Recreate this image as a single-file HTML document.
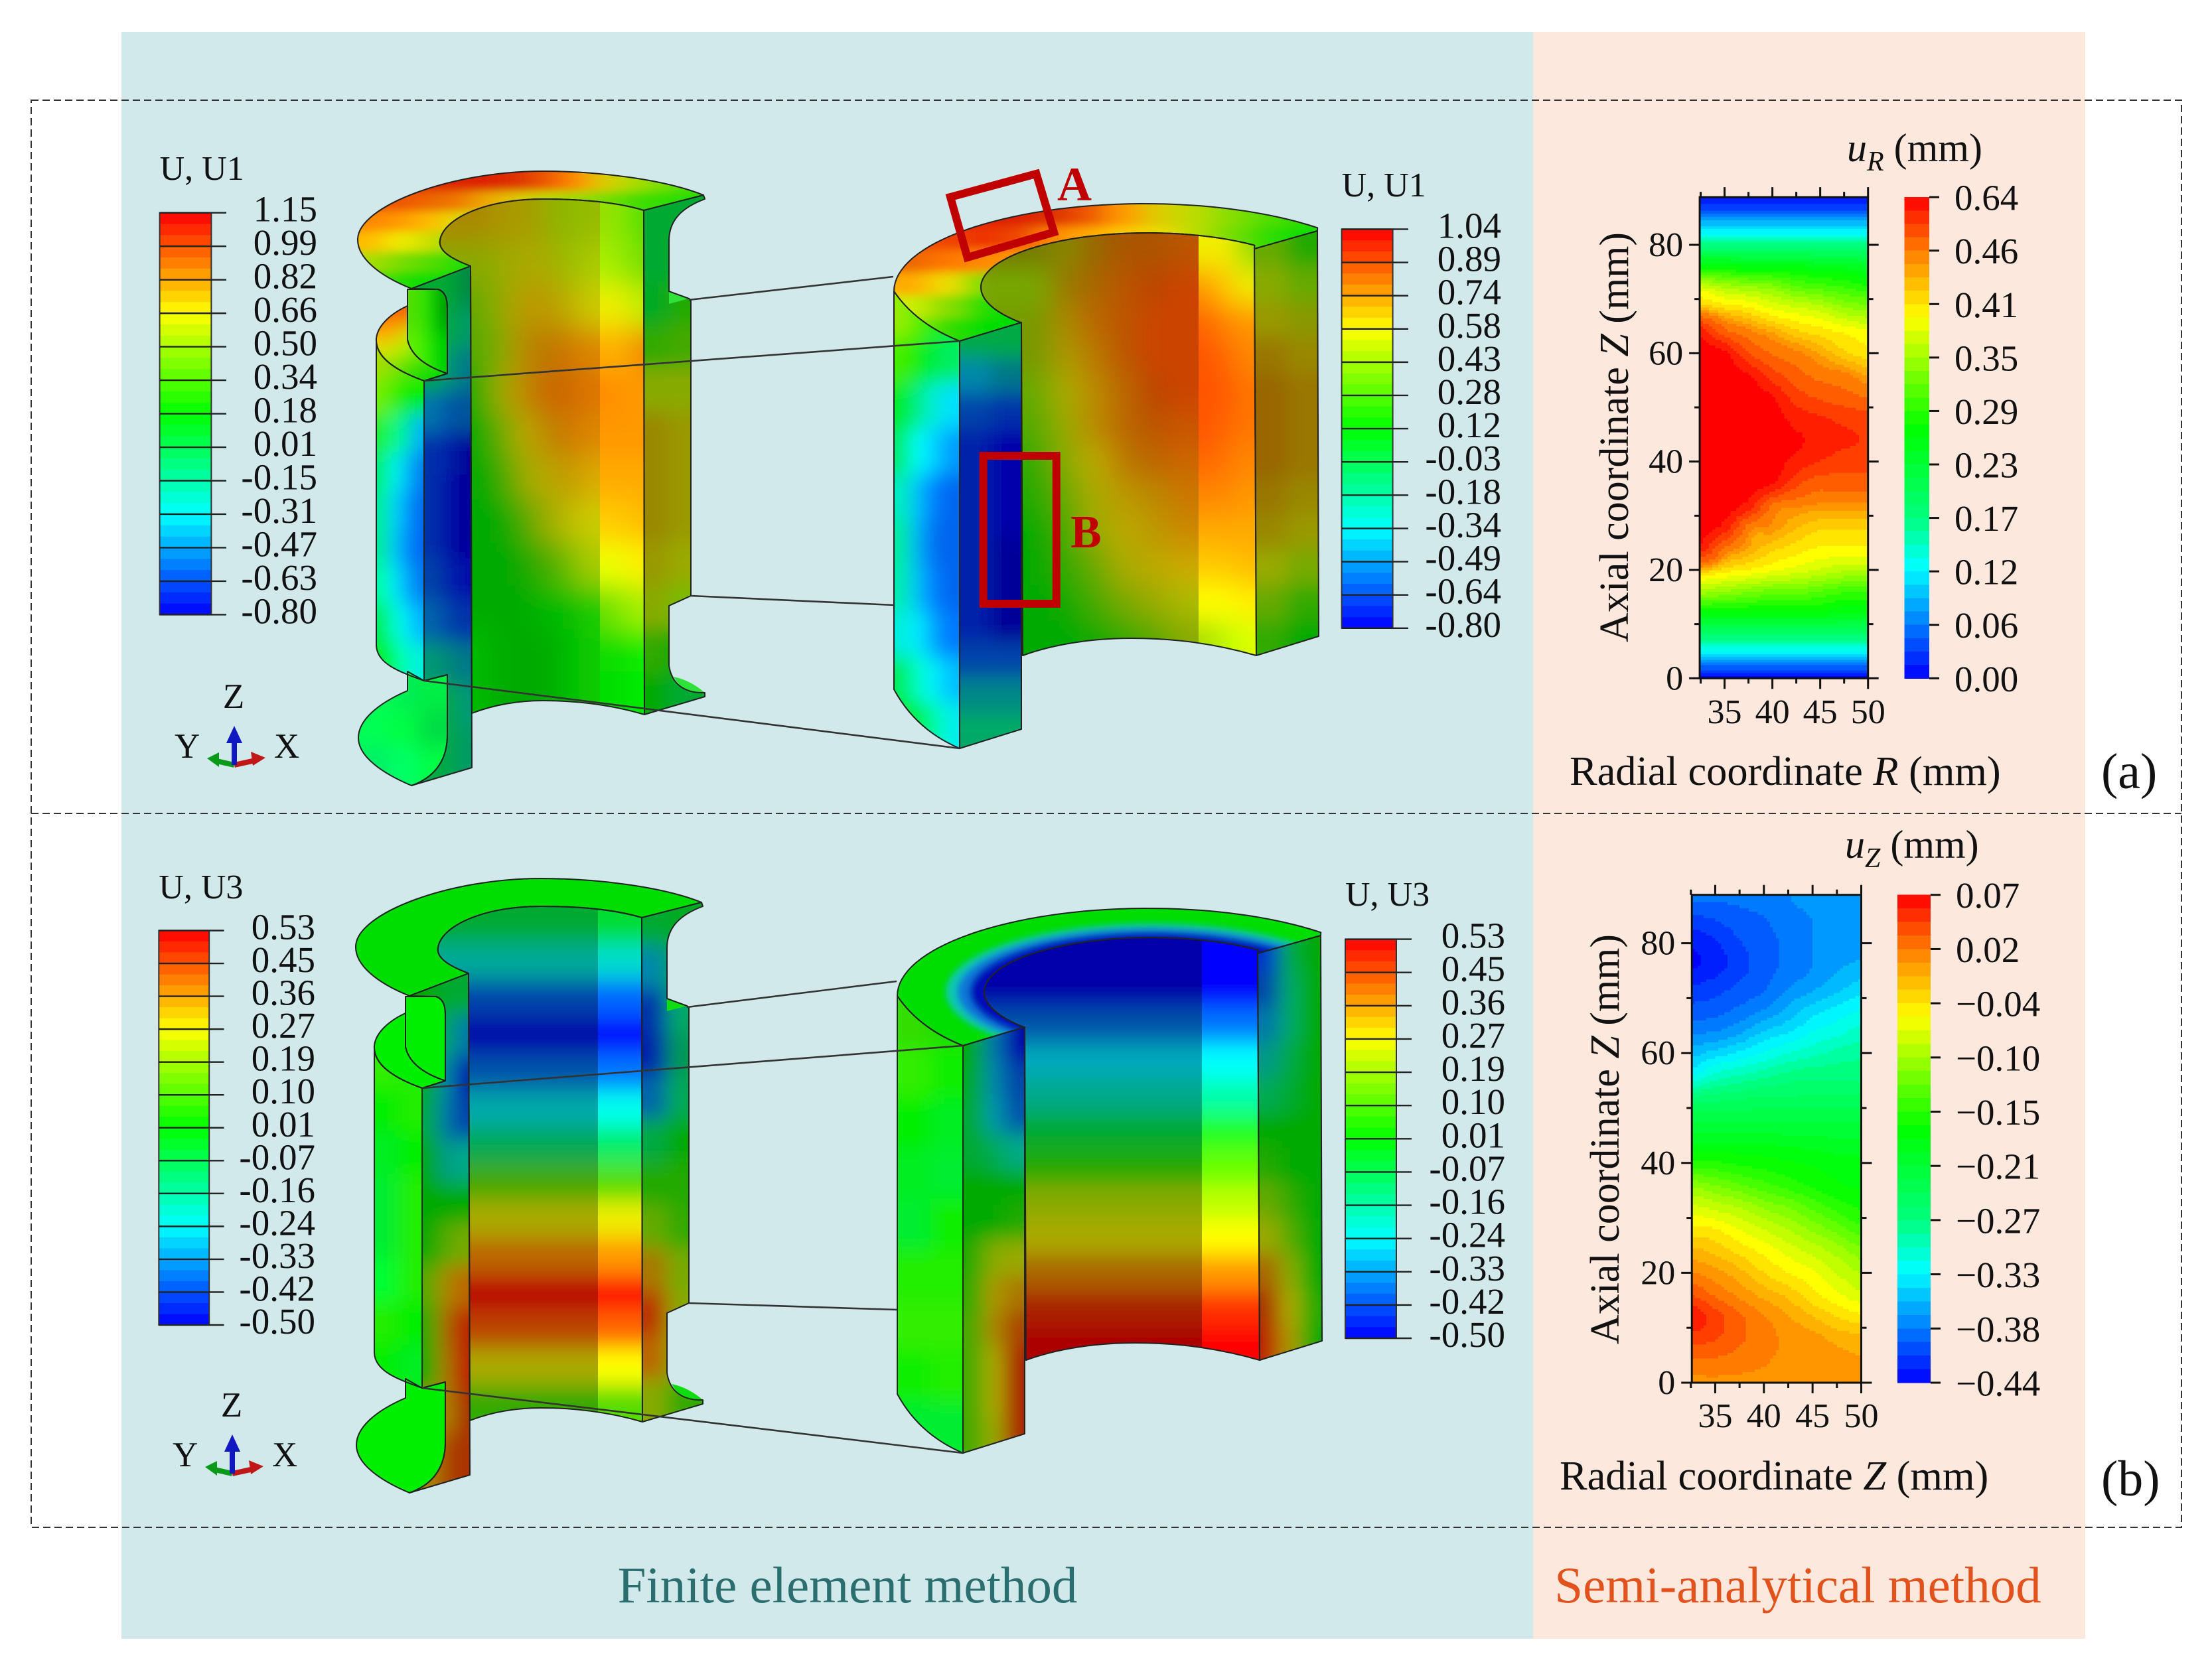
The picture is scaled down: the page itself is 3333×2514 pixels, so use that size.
<!DOCTYPE html>
<html lang="en">
<head>
<meta charset="utf-8">
<title>Finite element and semi-analytical displacement fields</title>
<style>
html,body{margin:0;padding:0;background:#fff;width:3333px;height:2514px;overflow:hidden}
svg{display:block}
text{font-family:"Liberation Serif","Times New Roman",serif;fill:#111}
</style>
</head>
<body>
<svg id="fig" xmlns="http://www.w3.org/2000/svg" width="3333" height="2514" viewBox="0 0 3333 2514">
<defs>
<filter id="blurBore" x="-25%" y="-25%" width="150%" height="150%"><feGaussianBlur stdDeviation="21"/></filter>
<filter id="blurRows" x="-25%" y="-25%" width="150%" height="150%"><feGaussianBlur stdDeviation="6 17"/></filter>
<filter id="blurFace" x="-40%" y="-25%" width="180%" height="150%"><feGaussianBlur stdDeviation="15"/></filter>
<filter id="blurTop" x="-25%" y="-40%" width="150%" height="180%"><feGaussianBlur stdDeviation="20 7"/></filter>
<filter id="blur5" x="-25%" y="-25%" width="150%" height="150%"><feGaussianBlur stdDeviation="5"/></filter>
</defs>
<rect x="183" y="48" width="2127" height="2422" fill="#d1e9ea"/>
<rect x="2310" y="48" width="832" height="2422" fill="#fde8de"/>
<g id="bodies"></g>
<g id="lines"></g>
<g id="colorbars"></g>
<g id="plots"></g>

<g fill="none" stroke="#333" stroke-width="2" stroke-dasharray="11 6">
<rect x="47" y="151" width="3240" height="2151"/>
<line x1="47" y1="1226" x2="3287" y2="1226"/>
</g>

<g fill="none" stroke="#c00000" stroke-width="12">
<polygon points="1432,297 1561.5,262 1588,350 1457.6,388"/>
<rect x="1481.7" y="687" width="110" height="223"/>
</g>
<text x="1593" y="302" font-size="72" font-weight="bold" style="fill:#c00000">A</text>
<text x="1613" y="825" font-size="70" font-weight="bold" style="fill:#c00000">B</text>

<g>
<text x="352" y="1067" font-size="53" text-anchor="middle">Z</text>
<text x="263" y="1142" font-size="53">Y</text>
<text x="413" y="1142" font-size="53">X</text>
<line x1="353" y1="1153" x2="322" y2="1146" stroke="#0a9a1a" stroke-width="8"/>
<polygon points="312,1143 330,1134 330,1156" fill="#0a9a1a"/>
<line x1="353" y1="1153" x2="385" y2="1146" stroke="#c01818" stroke-width="8"/>
<polygon points="400,1142 378,1133 381,1154" fill="#c01818"/>
<line x1="353" y1="1153" x2="353" y2="1115" stroke="#1018c0" stroke-width="8"/>
<polygon points="353,1094 341,1120 365,1120" fill="#1018c0"/>
</g>
<g transform="translate(-3,1068)">
<text x="352" y="1067" font-size="53" text-anchor="middle">Z</text>
<text x="263" y="1142" font-size="53">Y</text>
<text x="413" y="1142" font-size="53">X</text>
<line x1="353" y1="1153" x2="322" y2="1146" stroke="#0a9a1a" stroke-width="8"/>
<polygon points="312,1143 330,1134 330,1156" fill="#0a9a1a"/>
<line x1="353" y1="1153" x2="385" y2="1146" stroke="#c01818" stroke-width="8"/>
<polygon points="400,1142 378,1133 381,1154" fill="#c01818"/>
<line x1="353" y1="1153" x2="353" y2="1115" stroke="#1018c0" stroke-width="8"/>
<polygon points="353,1094 341,1120 365,1120" fill="#1018c0"/>
</g>

<text x="2783" y="243" font-size="60"><tspan font-style="italic">u</tspan><tspan font-style="italic" font-size="42" dy="14">R</tspan><tspan dy="-14"> (mm)</tspan></text>
<text x="2780" y="1293" font-size="60"><tspan font-style="italic">u</tspan><tspan font-style="italic" font-size="42" dy="14">Z</tspan><tspan dy="-14"> (mm)</tspan></text>
<text transform="translate(2453,659) rotate(-90)" font-size="62" text-anchor="middle">Axial coordinate <tspan font-style="italic">Z</tspan> (mm)</text>
<text transform="translate(2439,1717) rotate(-90)" font-size="62" text-anchor="middle">Axial coordinate <tspan font-style="italic">Z</tspan> (mm)</text>
<text x="2365" y="1183" font-size="62.4">Radial coordinate <tspan font-style="italic">R</tspan> (mm)</text>
<text x="2350" y="2245" font-size="62.4">Radial coordinate <tspan font-style="italic">Z</tspan> (mm)</text>
<text x="3166" y="1188" font-size="76">(a)</text>
<text x="3166" y="2254" font-size="76">(b)</text>
<text x="1277" y="2415" font-size="77" text-anchor="middle" style="fill:#2b6e70">Finite element method</text>
<text x="2709" y="2415" font-size="77" text-anchor="middle" style="fill:#e2521c">Semi-analytical method</text>
</svg>

<script>
/* ---------- chart data: semi-analytical contour plots ---------- */
const radialTicksMajor = [35, 40, 45, 50];
const radialTicksMinor = [32.5, 37.5, 42.5, 47.5];
const axialTicksMajor = [0, 20, 40, 60, 80];
const axialTicksMinor = [10, 30, 50, 70];

const uRRadii = [32.4, 35, 37.5, 40, 42.5, 45, 47.5, 50];
const uZRadii = [32.6, 35, 37.5, 40, 42.5, 45, 47.5, 50];
const axialStations = [0, 4, 8, 12, 16, 20, 24, 28, 32, 36, 40, 44, 48, 52, 56, 60, 64, 68, 72, 76, 80, 84, 88.8];

const uRColorbarTicks = [0.00, 0.06, 0.12, 0.17, 0.23, 0.29, 0.35, 0.41, 0.46, 0.64];
const uRColorbarLabels = ['0.00','0.06','0.12','0.17','0.23','0.29','0.35','0.41','0.46','0.64'];
const uZColorbarTicks = [-0.44, -0.38, -0.33, -0.27, -0.21, -0.15, -0.10, -0.04, 0.02, 0.07];
const uZColorbarLabels = ['\u22120.44','\u22120.38','\u22120.33','\u22120.27','\u22120.21','\u22120.15','\u22120.10','\u22120.04','0.02','0.07'];

const uRValues = [
 [.00,.00,.00,.00,.00,.00,.00,.00],
 [.10,.10,.10,.10,.10,.10,.10,.10],
 [.18,.18,.18,.18,.18,.18,.18,.18],
 [.26,.26,.26,.26,.26,.26,.25,.25],
 [.35,.34,.33,.32,.32,.31,.30,.30],
 [.43,.41,.40,.39,.38,.37,.36,.36],
 [.60,.48,.44,.42,.41,.40,.40,.40],
 [.64,.60,.47,.45,.43,.42,.42,.42],
 [.64,.64,.60,.48,.46,.45,.45,.45],
 [.64,.64,.64,.62,.54,.50,.50,.50],
 [.64,.64,.64,.64,.60,.57,.55,.55],
 [.64,.64,.64,.64,.625,.60,.58,.57],
 [.64,.64,.64,.64,.60,.58,.56,.55],
 [.64,.64,.64,.62,.55,.52,.50,.48],
 [.64,.64,.62,.55,.50,.47,.46,.44],
 [.64,.63,.53,.48,.46,.44,.42,.41],
 [.60,.50,.46,.44,.42,.41,.40,.39],
 [.44,.42,.41,.39,.38,.37,.35,.34],
 [.38,.36,.35,.34,.32,.31,.30,.29],
 [.27,.27,.26,.26,.26,.25,.25,.24],
 [.17,.17,.17,.17,.17,.17,.17,.17],
 [.09,.09,.09,.09,.09,.09,.09,.09],
 [.005,.005,.005,.005,.005,.005,.005,.005]
];

const uZValues = [
 [.009,.009,.009,.009,.009,.009,.004,.004],
 [.024,.024,.019,.014,.009,.009,.004,-.001],
 [.045,.039,.029,.019,.009,.004,-.007,-.012],
 [.060,.045,.029,.014,-.001,-.017,-.032,-.042],
 [.039,.024,.009,-.007,-.022,-.042,-.058,-.073],
 [.014,.004,-.012,-.032,-.047,-.058,-.078,-.093],
 [-.012,-.022,-.037,-.052,-.068,-.083,-.098,-.114],
 [-.042,-.047,-.063,-.078,-.093,-.109,-.124,-.139],
 [-.073,-.083,-.093,-.109,-.119,-.134,-.149,-.160],
 [-.109,-.119,-.129,-.139,-.149,-.160,-.170,-.175],
 [-.154,-.154,-.160,-.165,-.170,-.175,-.180,-.182],
 [-.190,-.190,-.190,-.190,-.195,-.195,-.200,-.200],
 [-.221,-.221,-.221,-.221,-.221,-.221,-.221,-.221],
 [-.262,-.256,-.251,-.246,-.246,-.246,-.246,-.246],
 [-.323,-.302,-.292,-.282,-.272,-.267,-.267,-.267],
 [-.353,-.343,-.333,-.320,-.307,-.297,-.287,-.282],
 [-.376,-.374,-.364,-.348,-.338,-.323,-.313,-.302],
 [-.397,-.394,-.384,-.374,-.358,-.343,-.333,-.323],
 [-.415,-.409,-.399,-.389,-.374,-.364,-.353,-.343],
 [-.435,-.425,-.409,-.394,-.384,-.374,-.364,-.358],
 [-.430,-.420,-.404,-.394,-.384,-.374,-.369,-.369],
 [-.409,-.404,-.394,-.389,-.379,-.374,-.369,-.369],
 [-.384,-.384,-.384,-.379,-.374,-.369,-.364,-.364]
];

/* ---------- finite element legend labels ---------- */
const u1LegendLeft = ['1.15','0.99','0.82','0.66','0.50','0.34','0.18','0.01','-0.15','-0.31','-0.47','-0.63','-0.80'];
const u1LegendRight = ['1.04','0.89','0.74','0.58','0.43','0.28','0.12','-0.03','-0.18','-0.34','-0.49','-0.64','-0.80'];
const u3Legend = ['0.53','0.45','0.36','0.27','0.19','0.10','0.01','-0.07','-0.16','-0.24','-0.33','-0.42','-0.50'];

/* ---------- painted colour fields of the 3D models (3-digit hex, rows top to bottom) ---------- */
const notchedU1 = {
 boreBlur:'blurBore',
 bore:["a80 a90 a90 9a0 8b0 9b0","8a0 9a0 aa0 aa0 9b0 ac0","6a0 9a0 b90 b90 ba0 cc0","5a0 8a0 b80 b70 c70 d80","2a0 aa0 b80 c60 c60 d70","0a0 6a0 ba0 b80 c70 d80","0a0 3a0 9a0 ba0 b90 da0","0a0 0a0 4a0 9a0 bb0 cc0","0a0 0a0 1a0 4a0 6b0 ac0","0a0 0a0 0a0 0b0 0b0 2c0","0b0 0a0 0a0 0a0 0b0 1c0","0b0 0a0 0a0 0a0 0b0 1c0"],
 band:["9d0 8e0 5d0","ae0 9e0 7d0","ee0 ee0 be0","fa0 fb0 e80","f80 f90 f90","f90 f90 f90","fa0 fa0 fa0","fc0 fc0 fb0","ef0 ef0 fe0","6d0 8e0 ae0","1d0 1d0 1e0","0d0 0d0 0e0"],
 left:["0a3 0a3 084","0a3 0a4 096","0a3 097 078","07a 05a 059","03a 02a 009","03a 01a 009","03a 01a 009","04a 02a 01a","06a 04a 03a","097 087 078","0a4 0a4 097","0a4 0a4 096"],
 right:["0a3 0a3","0a3 1a3","0a2 2a0","3a0 4a0","8a0 8a0","980 990","980 990","980 990","990 9a0","8a0 7b0","3a0 0a0","0a0 0a3"],
 outer:["ad0 8d0 6d0 5d0","7e0 3e0 0e0 0e0","2e2 0f8 0e9 0af","0e6 0fe 0bf 07e","0e8 0df 09f 06e","0e8 0cf 08f 06e","0f9 0ef 0af 07e","0e4 0fc 0ef 0af","0e0 0f6 0fc 0ed"],
 neck:["5d0 0e0 090","6e0 0e0 0c0"],
 ledge:["f60 e50 de0","fa0 ce0 7d0","ce0 7e0 3d0","6d0 2d0 0d0"],
 flange:["0f5 0e5 0e4","0f5 0f4 0d4","0e6 0f6 0f4"],
 wedge:'#2ee23a',
 top:["d20 d20 d20 d20 d20 d30 e50 f80 dc0 ad0 7d0 4d0","e50 e50 e60 e70 ea0 dc0 bd0 9d0 7d0 4d0 3d0 2d0","f80 f90 fb0 dd0 bd0 9d0 8d0 7d0 5d0 3d0 2d0 2d0","fb0 ee0 cd0 8d0 6d0 6d0 6d0 6d0 5d0 3d0 2d0 2d0","ad0 7d0 5d0 2d0 2d0 2d0 2d0 2d0 2d0 2d0 2d0 2d0","5d0 2d0 0d0 0d0 0d0 0d0 0d0 0d0 0d0 0d0 0d0 0d0"]
};
const notchedU3 = {
 boreBlur:'blurRows',
 bore:["0a3","0a9","04a","00a","05a","0aa","0a5","4a0","aa0","b60","b00","b40","aa0","3a0"],
 band:["0d3","0dc","06f","00f","07f","0fe","0e6","5d0","ee0","f90","f10","f60","ff0","5d0"],
 left:["0a0 0a3 0a3","0a0 0a6 07a","0a2 08a 02a","0a4 07a 04a","0a0 098 0a8","0a0 0a0 0a0","0a0 5a0 7a0","5a0 a80 b60","2a0 a60 b20","0a0 a70 b20","a80 a80 a30","a80 a40 a30"],
 right:["0a3 0a2","08a 0a4","03a 0a6","02a 095","06a 0a5","0a4 0a0","2a0 2a0","6a0 3a0","a70 7a0","b30 8a0","b60 8a0","8a0 3a0"],
 outer:["3e0 2e0","0e0 2e0","0e2 0e0","0e3 2e0","0e3 2e0","0f3 2e0","2e0 0e0","0e0 0e2"],
 neck:["0e0"],
 ledge:["0e0"],
 flange:["0e0"],
 wedge:'#10dd10',
 top:["0d0"]
};
const plainU1 = {
 boreBlur:'blurBore',
 bore:["770 880 960 a50 a50 b50","7a0 970 a60 b50 b40 c40","790 a80 b60 b50 c40 c40","790 a90 b70 b50 c40 c40","6a0 aa0 b80 b60 b40 c40","5a0 9a0 b80 b60 b50 c50","3a0 8a0 ba0 b70 b60 c60","2a0 6a0 aa0 b90 b80 c70","0a0 4a0 9a0 ba0 b90 c80","0a0 3a0 6a0 aa0 ba0 ca0","0a0 1a0 4a0 7a0 9a0 ab0","0a0 0a0 1a0 3a0 5a0 8a0"],
 band:["ee0 fe0 8d0","f90 fc0 ee0","f60 f80 f90","f50 f60 f80","f50 f50 f70","f50 f60 f70","f60 f70 f80","f80 f80 f90","fa0 fa0 fa0","fc0 fc0 fb0","ff0 ff0 fe0","ad0 bf0 df0"],
 left:["0a4 0a4","08a 078","04a 03a","02a 00a","02a 00a","02a 00a","02a 009","02a 009","02a 009","04a 04a","088 088","0a6 0a6"],
 right:["6a0 2a0","8a0 6a0","990 890","970 980","960 970","960 970","960 970","970 980","980 990","9a0 7a0","6a0 3a0","3a0 0a0"],
 outer:["9e0 5e0 2e0 0e0","4e0 0e0 0e4 0e6","0e2 0e8 0ed 0df","0e6 0ff 0cf 09f","0eb 0bf 07f 06e","0e9 0af 06e 06e","0ea 0bf 07f 06e","0ed 0ef 09f 07f","0e5 0fc 0ef 0bf","1e0 0e2 0fa 0ee"],
 top:["d20 d20 d20 d20 d30 e50 f90 dc0 bd0 8d0 5d0 3d0","e40 e40 e30 e40 f80 fa0 fc0 ed0 bd0 7d0 3d0 1d0","e60 f70 f80 f90 fa0 fb0 ed0 cd0 9d0 6d0 3d0 1d0","fa0 ed0 7d0 7d0 7d0 7d0 7d0 7d0 7d0 5d0 3d0 1d0","ce0 8d0 2d0 0d0 0d0 0d0 0d0 0d0 0d0 0d0 0d0 0d0","8e0 3d0 0d0 0d0 0d0 0d0 0d0 0d0 0d0 0d0 0d0 0d0"]
};
const plainU3 = {
 boreBlur:'blurRows',
 bore:["00a","00a","05a","0ab","0a8","0a3","2a0","8a0","aa0","a60","a20","a00"],
 band:["00f","00f","07f","0ff","0fa","2f2","6f0","bf0","ff0","f90","f30","f00"],
 left:["0a0 07a 00a","0a2 08a 04a","0a3 09a 05a","0a3 0a5 0a8","0a0 0a0 0a0","0a0 0a0 2a0","2a0 8a0 9a0","3a0 a90 a70","4a0 a80 a40","4a0 aa0 a20","4a0 aa0 a20","4a0 9a0 a20"],
 right:["03c 0a4 0a0","04a 0a6 0a0","07a 0a6 0a0","098 0a4 0a0","0a5 0a3 0a0","0a0 0a0 0a0","2a0 0a0 0a0","6a0 3a0 0a0","9a0 5a0 0a0","a60 8a0 0a0","a30 aa0 2a0","b20 a90 0a0"],
 outer:["3d0 2d0","3e0 1e0","0e0 0e2","0e2 0e3","0e3 1e0","2e0 2e0","3e0 3e0","1e0 2e0","0e3 0e3"],
 top:["0d0"]
};

/* ---------- helpers ---------- */
const NS = 'http://www.w3.org/2000/svg';
function mk(tag, attrs, parent) {
  const e = document.createElementNS(NS, tag);
  for (const k in attrs) e.setAttribute(k, attrs[k]);
  parent.appendChild(e);
  return e;
}
let clipCount = 0;
function makeClip(parent, d) {
  const id = 'clip' + (++clipCount);
  const c = mk('clipPath', {id: id}, parent);
  mk('path', {d: d}, c);
  return 'url(#' + id + ')';
}
function expand(h) {
  return '#' + h[0] + h[0] + h[1] + h[1] + h[2] + h[2];
}
function paintField(parent, x0, y0, x1, y1, rows, blur) {
  const g = mk('g', {filter: 'url(#' + blur + ')'}, parent);
  const nr = rows.length;
  rows.forEach(function (row, r) {
    const cells = row.split(' ');
    const nc = cells.length;
    const cw = (x1 - x0) / nc, ch = (y1 - y0) / nr;
    cells.forEach(function (h, c) {
      const xa = x0 + c * cw - (c === 0 ? 90 : 0);
      const xb = x0 + (c + 1) * cw + (c === nc - 1 ? 90 : 1);
      const ya = y0 + r * ch - (r === 0 ? 90 : 0);
      const yb = y0 + (r + 1) * ch + (r === nr - 1 ? 90 : 1);
      const cell = mk('rect', {x: xa, y: ya, width: xb - xa, height: yb - ya, fill: expand(h)}, g);
      
      
    });
  });
}
function surface(parent, name, d, x0, y0, x1, y1, rows, blur) {
  const g = mk('g', {}, parent);
  
  
  const inner = mk('g', {'clip-path': makeClip(g, d)}, g);
  paintField(inner, x0, y0, x1, y1, rows, blur);
  return {group: g, inner: inner, d: d};
}
function outline(parent, d) {
  const p = mk('path', {d: d, fill: 'none', stroke: '#222', 'stroke-width': 2, 'stroke-linejoin': 'round'}, parent);
  
  
}
function bandedBore(parent, name, d, x0, xSplit, x1, y0, y1, c) {
  const g = mk('g', {'clip-path': makeClip(parent, d)}, parent);
  
  
  const a = mk('g', {'clip-path': makeClip(g, 'M0 0H' + xSplit + 'V2514H0Z')}, g);
  paintField(a, x0, y0, xSplit, y1, c.bore, c.boreBlur);
  const b = mk('g', {'clip-path': makeClip(g, 'M' + xSplit + ' 0H3333V2514H' + xSplit + 'Z')}, g);
  paintField(b, xSplit, y0, x1, y1, c.band, c.boreBlur);
}

/* ---------- notched specimen (left column) ---------- */
function drawNotched(name, dx, dy, c) {
  const g = mk('g', {transform: 'translate(' + dx + ',' + dy + ')'}, document.getElementById('bodies'));
  
  
  const boreD = 'M709 401C680 390 660 378 663 362C668 330 730 300 818 300C880 300 930 305 970 317L971 1077C920 1062 870 1056 818 1056C780 1056 745 1062 711 1075Z';
  const rightD = 'M970 317L1060 294L1062 300C1030 312 1008 330 1008 363L1008 439L1038 450L1041 452L1041 898L1008 913L1008 1003C1012 1030 1030 1045 1062 1044L1062 1050L971 1077Z';
  const outerD = 'M567 510C565 540 600 560 639 574L639 1026C600 1012 568 1000 567 973Z';
  const flangeD = 'M614 1041C570 1060 540 1085 540 1112C540 1140 575 1165 620 1184C660 1170 674 1140 674 1108L674 1017L639 1026L614 1012Z';
  const neckD = 'M614 436L660 436C672 440 674 452 674 465L674 563C650 555 620 540 614 512Z';
  const ledgeD = 'M639 574C600 560 565 540 567 510C569 490 590 472 614 461L614 512C620 540 650 555 674 563Z';
  const leftD = 'M709 401L620 435L660 436C672 440 674 452 674 465L674 563L639 574L639 1026L674 1017L674 1108C674 1140 660 1170 620 1184L711 1157Z';
  const topD = 'M620 435C570 415 538 388 539 360C541 310 680 258 818 258C900 258 1000 270 1060 294L970 317C930 305 880 300 818 300C730 300 668 330 663 362C660 378 680 390 709 401Z';

  bandedBore(g, 'bore-surface', boreD, 709, 904, 970, 300, 1077, c);
  surface(g, 'right-cut-face', rightD, 970, 294, 1045, 1077, c.right, 'blurFace');
  const w1 = mk('path', {d: 'M1008 439L1038 450L1008 458Z', fill: c.wedge}, g);
  
  
  const w2 = mk('path', {d: 'M1015 1020Q1040 1025 1062 1044Q1030 1048 1015 1020Z', fill: c.wedge}, g);
  
  
  surface(g, 'outer-surface', outerD, 567, 510, 639, 1025, c.outer, 'blurFace');
  surface(g, 'lower-flange', flangeD, 540, 1012, 674, 1184, c.flange, 'blurFace');
  surface(g, 'upper-neck', neckD, 614, 436, 674, 563, c.neck, 'blurFace');
  surface(g, 'mid-ledge', ledgeD, 567, 461, 674, 574, c.ledge, 'blurFace');
  surface(g, 'left-cut-face', leftD, 639, 400, 711, 1157, c.left, 'blurFace');
  surface(g, 'top-flange', topD, 537, 258, 1065, 440, c.top, 'blurTop');
  [boreD, rightD, outerD, flangeD, neckD, ledgeD, leftD, topD].forEach(function (d) { outline(g, d); });
}

/* ---------- plain ring specimen (middle column) ---------- */
function ellipsePath(cx, cy, rx, ry, a0, a1) {
  let s = '';
  const n = 48;
  for (let i = 0; i <= n; i++) {
    const t = (a0 + (a1 - a0) * i / n) * Math.PI / 180;
    s += 'L' + (cx + rx * Math.cos(t)).toFixed(1) + ' ' + (cy + ry * Math.sin(t)).toFixed(1);
  }
  return s;
}
function drawPlain(name, dx, dy, c, ring) {
  const g = mk('g', {transform: 'translate(' + dx + ',' + dy + ')'}, document.getElementById('bodies'));
  
  
  const boreD = 'M1539 486' + ellipsePath(1730, 433, 252, 82, 139.4, 309.5) + 'L1890 375L1893 988C1830 970 1770 962 1705 962C1650 962 1590 970 1541 988Z';
  const outerD = 'M1347 439Q1380 488 1446 514L1446 1128Q1380 1100 1347 1039Z';
  const leftD = 'M1446 514L1539 486L1539 1099L1446 1128Z';
  const rightD = 'M1890 375L1985 348L1987 959L1893 988Z';
  const topD = 'M1446 514Q1380 488 1347 439' + ellipsePath(1725, 439, 378, 132, 180, 313.5) + 'L1985 348L1890 375' + ellipsePath(1730, 433, 252, 82, 309.5, 139.4) + 'L1539 486Z';

  bandedBore(g, 'bore-surface', boreD, 1539, 1806, 1890, 351, 988, c);
  surface(g, 'outer-surface', outerD, 1347, 439, 1446, 1128, c.outer, 'blurFace');
  surface(g, 'left-cut-face', leftD, 1446, 486, 1539, 1128, c.left, 'blurFace');
  surface(g, 'right-cut-face', rightD, 1890, 348, 1987, 988, c.right, 'blurFace');
  const top = surface(g, 'top-face', topD, 1347, 307, 1985, 514, c.top, 'blurTop');
  if (ring) {
    const rg = mk('g', {filter: 'url(#blur5)'}, top.inner);
    
    
    const ringOuter = mk('ellipse', {cx: 1730, cy: 433, rx: 310, ry: 103, fill: '#10c8b0'}, rg);
    
    
    const ringMid = mk('ellipse', {cx: 1730, cy: 433, rx: 293, ry: 96, fill: '#0a78d8'}, rg);
    
    
    const ringIn = mk('ellipse', {cx: 1730, cy: 433, rx: 274, ry: 90, fill: '#0008b8'}, rg);
    
    
  }
  [boreD, outerD, leftD, rightD, topD].forEach(function (d) { outline(g, d); });
}

drawNotched('u1-notched-model', 0, 0, notchedU1);
drawPlain('u1-ring-model', 0, 0, plainU1, false);
drawNotched('u3-notched-model', -3, 1066, notchedU3);
drawPlain('u3-ring-model', 5, 1062, plainU3, true);

/* ---------- connector lines ---------- */
const connectorNodes = [
  [1038, 452, 1346, 417],
  [639, 574, 1446, 514],
  [1041, 898, 1347, 912],
  [639, 1026, 1446, 1128]
];
const lineLayer = document.getElementById('lines');
connectorNodes.forEach(function (n) {
  const a = mk('line', {x1: n[0], y1: n[1], x2: n[2], y2: n[3], stroke: '#333', 'stroke-width': 2.6}, lineLayer);
  
  
  const b = mk('line', {x1: n[0] - 3, y1: n[1] + 1066, x2: n[2] + 5, y2: n[3] + 1062, stroke: '#333', 'stroke-width': 2.6}, lineLayer);
  
  
});

/* ---------- finite element legends ---------- */
function drawLegend(name, title, labels, x0, x1, y0, y1, tickEnd, labelEnd, titleY) {
  const layer = document.getElementById('colorbars');
  const g = mk('g', {}, layer);
  
  
  const t = mk('text', {x: x0, y: titleY, 'font-size': 52}, g);
  t.textContent = title;
  
  
  const bands = 36;
  for (let i = 0; i < bands; i++) {
    const h = 240 * (i + 0.5) / bands;
    const b = mk('rect', {x: x0, y: y0 + (y1 - y0) * i / bands, width: x1 - x0, height: (y1 - y0) / bands + 0.6, fill: 'hsl(' + h + ',100%,50%)'}, g);
    
    
  }
  const frame = mk('rect', {x: x0, y: y0, width: x1 - x0, height: y1 - y0, fill: 'none', stroke: '#333', 'stroke-width': 2}, g);
  
  
  labels.forEach(function (lab, i) {
    const y = y0 + (y1 - y0) * i / (labels.length - 1);
    const tick = mk('line', {x1: x0, x2: tickEnd, y1: y, y2: y, stroke: '#222', 'stroke-width': 2.4}, g);
    
    
    const l = mk('text', {x: labelEnd, y: y + 13, 'font-size': 55, 'text-anchor': 'end'}, g);
    l.textContent = lab;
    
    
  });
}
drawLegend('u1-legend-left', 'U, U1', u1LegendLeft, 240.6, 318.4, 320.7, 926.4, 341, 478, 271);
drawLegend('u1-legend-right', 'U, U1', u1LegendRight, 2021.6, 2098.6, 345.4, 946.8, 2122, 2262, 296);
drawLegend('u3-legend-left', 'U, U3', u3Legend, 239.3, 315.2, 1402.5, 1997, 337.5, 475, 1354);
drawLegend('u3-legend-right', 'U, U3', u3Legend, 2027, 2104, 1415.6, 2017, 2127, 2268, 1365);

/* ---------- rainbow colormap of the contour plots ---------- */
const rainbowStops = [0, .23, .33, .52, .75, .885, 1];
const rainbowRGB = [[0,0,255],[0,255,255],[0,255,128],[0,255,0],[255,255,0],[255,128,0],[255,0,0]];
function rainbow(p) {
  p = Math.max(0, Math.min(1, p));
  for (let i = 1; i < rainbowStops.length; i++) {
    if (p <= rainbowStops[i]) {
      const f = (p - rainbowStops[i - 1]) / (rainbowStops[i] - rainbowStops[i - 1]);
      const a = rainbowRGB[i - 1], b = rainbowRGB[i];
      return 'rgb(' + Math.round(a[0] + (b[0] - a[0]) * f) + ',' + Math.round(a[1] + (b[1] - a[1]) * f) + ',' + Math.round(a[2] + (b[2] - a[2]) * f) + ')';
    }
  }
  return 'rgb(255,0,0)';
}
function levelPosition(v, levels) {
  const n = levels.length - 1;
  if (v <= levels[0]) return 0;
  for (let i = 1; i <= n; i++) {
    if (v <= levels[i]) return (i - 1 + (v - levels[i - 1]) / (levels[i] - levels[i - 1])) / n;
  }
  return 1;
}
/* smooth resampling of the value grid at render time */
function smooth(a, b, c, d, t) {
  const v = 0.5 * (2 * b + (c - a) * t + (2 * a - 5 * b + 4 * c - d) * t * t + (3 * b - a - 3 * c + d) * t * t * t);
  return Math.max(Math.min(b, c), Math.min(Math.max(b, c), v));
}
function sampleGrid(values, r, c, u, w) {
  const nr = values.length, nc = values[0].length;
  const col = [];
  for (let k = -1; k <= 2; k++) {
    const row = values[Math.max(0, Math.min(nr - 1, r + k))];
    col.push(smooth(row[Math.max(0, c - 1)], row[c], row[c + 1], row[Math.min(nc - 1, c + 2)], u));
  }
  return smooth(col[0], col[1], col[2], col[3], w);
}

/* ---------- contour plot ---------- */
function drawContour(cfg) {
  const layer = document.getElementById('plots');
  const g = mk('g', {}, layer);
  
  
  const xOf = cfg.xOf, yOf = cfg.yOf;
  const bands = 36, nx = 8, ny = 8;
  const cells = mk('g', {'shape-rendering': 'crispEdges'}, g);
  
  
  for (let r = 0; r < cfg.z.length - 1; r++) {
    for (let c = 0; c < cfg.r.length - 1; c++) {
      for (let i = 0; i < nx; i++) {
        for (let j = 0; j < ny; j++) {
          const u = (i + .5) / nx, w = (j + .5) / ny;
          const v = sampleGrid(cfg.values, r, c, u, w);
          const p = Math.round(levelPosition(v, cfg.levels) * bands) / bands;
          const xa = xOf(cfg.r[c] + (cfg.r[c + 1] - cfg.r[c]) * i / nx);
          const xb = xOf(cfg.r[c] + (cfg.r[c + 1] - cfg.r[c]) * (i + 1) / nx);
          const ya = yOf(cfg.z[r] + (cfg.z[r + 1] - cfg.z[r]) * (j + 1) / ny);
          const yb = yOf(cfg.z[r] + (cfg.z[r + 1] - cfg.z[r]) * j / ny);
          const cell = mk('rect', {x: xa, y: ya, width: xb - xa + .6, height: yb - ya + .6, fill: rainbow(p)}, cells);
          
          
        }
      }
    }
  }
  const left = xOf(cfg.r[0]), right = xOf(50), top = yOf(cfg.z[cfg.z.length - 1]), bottom = yOf(0);
  const frame = mk('rect', {x: left, y: top, width: right - left, height: bottom - top, fill: 'none', stroke: '#111', 'stroke-width': 3}, g);
  
  

  function tick(x1, y1, x2, y2, nm) {
    const t = mk('line', {x1: x1, y1: y1, x2: x2, y2: y2, stroke: '#111', 'stroke-width': 3}, g);
    
    
  }
  radialTicksMajor.forEach(function (R) {
    tick(xOf(R), bottom, xOf(R), bottom + 16, 'x-tick-major');
    tick(xOf(R), top, xOf(R), top - 15, 'x-tick-top');
    const l = mk('text', {x: xOf(R), y: cfg.xLabelY, 'font-size': 52, 'text-anchor': 'middle'}, g);
    l.textContent = String(R);
    
    
  });
  radialTicksMinor.forEach(function (R) {
    tick(xOf(R), bottom, xOf(R), bottom + 8, 'x-tick-minor');
    tick(xOf(R), top, xOf(R), top - 8, 'x-tick-top-minor');
  });
  axialTicksMajor.forEach(function (Z) {
    tick(left, yOf(Z), left - 16, yOf(Z), 'y-tick-major');
    tick(right, yOf(Z), right + 16, yOf(Z), 'y-tick-right');
    const l = mk('text', {x: left - 25, y: yOf(Z) + 17, 'font-size': 52, 'text-anchor': 'end'}, g);
    l.textContent = String(Z);
    
    
  });
  axialTicksMinor.forEach(function (Z) {
    tick(left, yOf(Z), left - 8, yOf(Z), 'y-tick-minor');
    tick(right, yOf(Z), right + 8, yOf(Z), 'y-tick-right-minor');
  });

  const cb = mk('g', {'shape-rendering': 'crispEdges'}, g);
  
  
  for (let i = 0; i < bands; i++) {
    const s = mk('rect', {x: cfg.cbX0, y: top + (bottom - top) * i / bands, width: cfg.cbX1 - cfg.cbX0, height: (bottom - top) / bands + .6, fill: rainbow(1 - (i + .5) / bands)}, cb);
    
    
  }
  const n = cfg.levels.length - 1;
  cfg.levels.forEach(function (lev, i) {
    const y = yOf(0) - (i / n) * (bottom - top);
    tick(cfg.cbX1, y, cfg.cbX1 + 15, y, 'colorbar-tick');
    const l = mk('text', {x: cfg.cbX1 + 38, y: y + 19.5, 'font-size': 55}, g);
    l.textContent = cfg.labels[i];
    
    
  });
}

drawContour({
  name: 'ur-contour-plot',
  r: uRRadii, z: axialStations, values: uRValues,
  levels: uRColorbarTicks, labels: uRColorbarLabels,
  xOf: function (R) { return 2814.7 + (R - 50) * 14.41; },
  yOf: function (Z) { return 1022.3 - Z * 8.166; },
  xLabelY: 1090, cbX0: 2869.5, cbX1: 2907
});
drawContour({
  name: 'uz-contour-plot',
  r: uZRadii, z: axialStations, values: uZValues,
  levels: uZColorbarTicks, labels: uZColorbarLabels,
  xOf: function (R) { return 2804.5 + (R - 50) * 14.67; },
  yOf: function (Z) { return 2084 - Z * 8.28; },
  xLabelY: 2151, cbX0: 2859, cbX1: 2909
});
</script>
</body>
</html>
